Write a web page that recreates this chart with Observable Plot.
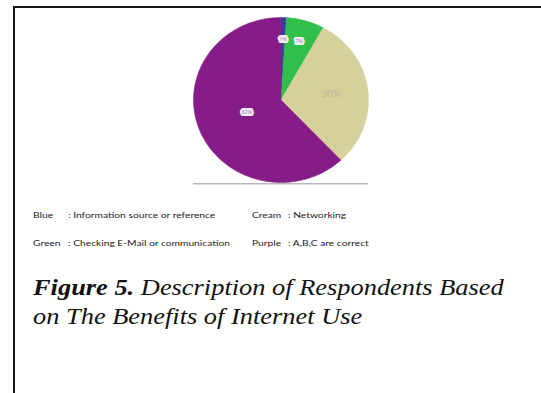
<!DOCTYPE html>
<html>
<head>
<meta charset="utf-8">
<script src="https://cdn.jsdelivr.net/npm/d3@7"></script>
<script src="https://cdn.jsdelivr.net/npm/@observablehq/plot@0.6"></script>
<style>
  html, body { margin: 0; padding: 0; background: #fff; }
  #page { position: relative; width: 541px; height: 393px; overflow: hidden; background: #fff; }
  #frame { position: absolute; left: 13px; top: 6px; right: -5px; bottom: -5px;
           border-left: 2.5px solid #151515; border-top: 2.5px solid #151515; }
  #chart { position: absolute; left: 0; top: 0; }
  .leg { position: absolute; font-family: Lato, "Open Sans", sans-serif; font-size: 8px; color: #222; white-space: nowrap; line-height: 1;
         transform: scaleX(1.28); transform-origin: left center; }
  #caption { position: absolute; left: 33px; top: 273px; font-family: "Liberation Serif", "DejaVu Serif", serif;
             font-style: italic; font-size: 24px; line-height: 29px; color: #111; white-space: nowrap;
             transform: scaleX(1.1); transform-origin: left top; }
</style>
</head>
<body>
<div id="page">
  <div id="frame"></div>
  <div id="chart"></div>
  <div id="legend"></div>
  <div id="caption"><b>Figure 5.</b> Description of Respondents Based<br>on The Benefits of Internet Use</div>
</div>
<script>
// ---- data ----
const categories = ["Information source or reference", "Checking E-Mail or communication", "Networking", "A,B,C are correct"];
const colorNames = ["Blue", "Green", "Cream", "Purple"];
const shares = [1, 7, 30, 62];
const sliceLabels = ["1%", "7%", "30%", "62%"];
const sliceColors = ["#3a3f9c", "#2fbf4a", "#d6d09a", "#861c88"];

// ---- pie geometry (unit circle, angles from 12 o'clock clockwise) ----
const arcs = d3.pie().sort(null).value(d => d)(shares);
const wedgePts = [];
arcs.forEach((a, i) => {
  const cat = categories[i];
  wedgePts.push({cat, x: 0, y: 0});
  const n = Math.max(4, Math.ceil((a.endAngle - a.startAngle) / 0.02));
  for (let k = 0; k <= n; k++) {
    const t = a.startAngle + (a.endAngle - a.startAngle) * k / n;
    wedgePts.push({cat, x: Math.sin(t), y: Math.cos(t)});
  }
  wedgePts.push({cat, x: 0, y: 0});
});
const labelPts = arcs.map((a, i) => {
  const mid = (a.startAngle + a.endAngle) / 2;
  const r = shares[i] < 10 ? 0.74 : (shares[i] < 50 ? 0.58 : 0.42);
  return {cat: categories[i], text: sliceLabels[i], x: r * Math.sin(mid), y: r * Math.cos(mid), small: i !== 2};
});

const chart = Plot.plot({
  width: 541,
  height: 200,
  marginLeft: 193,
  marginRight: 173,
  marginTop: 17,
  marginBottom: 18,
  x: {domain: [-1, 1], axis: null},
  y: {domain: [-1, 1], axis: null},
  color: {domain: categories, range: sliceColors},
  style: {background: "transparent"},
  marks: [
    Plot.line(wedgePts, {x: "x", y: "y", z: "cat", fill: "cat", stroke: "cat", strokeWidth: 0.5, curve: "linear"}),
    Plot.ruleY([-1.015], {stroke: "#b9b9b9", strokeWidth: 1.5}),
    Plot.text(labelPts.filter(d => d.small), {x: "x", y: "y", text: "text", fontSize: 5, fill: "#b9a9c9", stroke: "#f4eef6", strokeWidth: 4, fontWeight: "bold"}),
    Plot.text(labelPts.filter(d => !d.small), {x: "x", y: "y", text: "text", fontSize: 10, fill: "#b8b39a", fontFamily: "Liberation Serif"})
  ]
});
document.getElementById("chart").appendChild(chart);

// ---- legend (text only, as in the reference) ----
const legendPos = [
  {name: 0, row: 0, col: 0},
  {name: 2, row: 0, col: 1},
  {name: 1, row: 1, col: 0},
  {name: 3, row: 1, col: 1}
];
const leg = document.getElementById("legend");
legendPos.forEach(p => {
  const baseX = p.col === 0 ? 33 : 252;
  const top = p.row === 0 ? 211 : 239;
  const n = document.createElement("div");
  n.className = "leg";
  n.style.left = baseX + "px"; n.style.top = top + "px";
  n.textContent = colorNames[p.name];
  leg.appendChild(n);
  const d = document.createElement("div");
  d.className = "leg";
  d.style.left = (baseX + (p.col === 0 ? 35 : 36)) + "px"; d.style.top = top + "px";
  d.textContent = ": " + categories[p.name];
  leg.appendChild(d);
});
</script>
</body>
</html>
